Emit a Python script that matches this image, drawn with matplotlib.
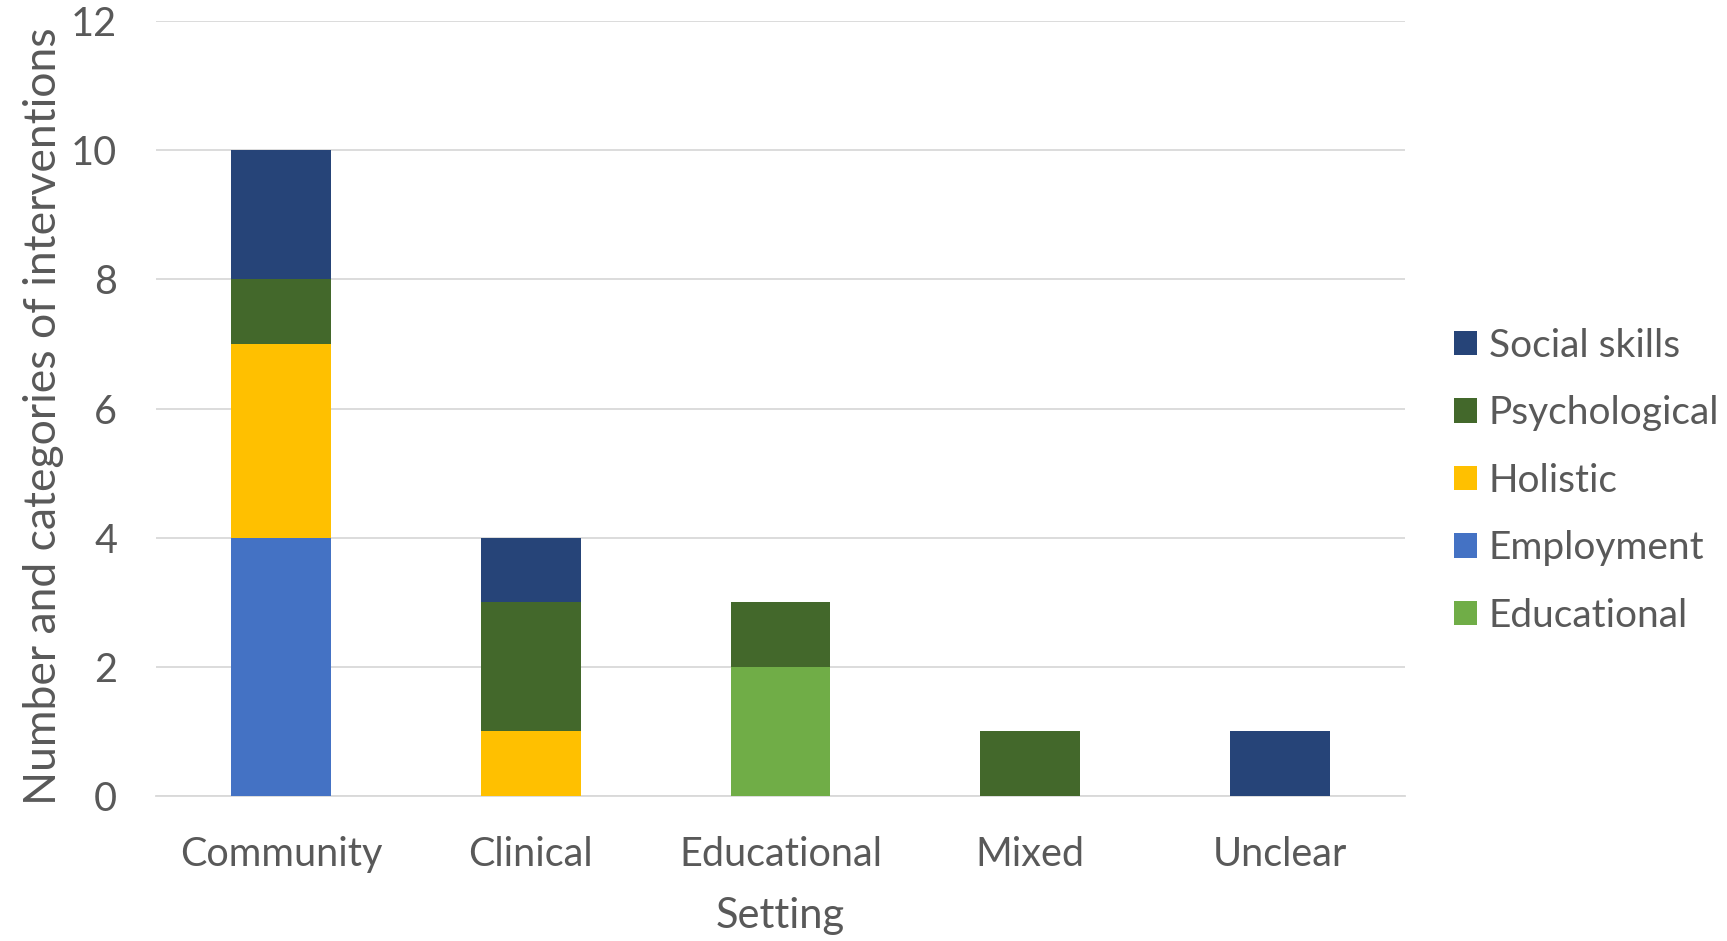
import matplotlib
matplotlib.use("Agg")
import matplotlib.pyplot as plt
import numpy as np

settings = ["Community", "Clinical", "Educational", "Mixed", "Unclear"]
series_names = ["Educational", "Employment", "Holistic", "Psychological", "Social skills"]
educational = [0, 0, 2, 0, 0]
employment = [4, 0, 0, 0, 0]
holistic = [3, 1, 0, 0, 0]
psychological = [1, 2, 1, 1, 0]
social_skills = [2, 1, 0, 0, 1]
colors = ["#70AD47", "#4472C4", "#FFC000", "#43682B", "#264478"]
yticks = [0, 2, 4, 6, 8, 10, 12]

plt.rcParams['font.family'] = ['Lato', 'DejaVu Sans']
txt = "#595959"

fig = plt.figure(figsize=(17.27, 9.41), dpi=100)
ax = fig.add_axes([0.0903, 0.154, 0.7233, 0.8237])

x = np.arange(len(settings))
bottom = np.zeros(len(settings))
handles = []
for name, vals, c in zip(series_names, [educational, employment, holistic, psychological, social_skills], colors):
    b = ax.bar(x, vals, 0.4, bottom=bottom, color=c, label=name, zorder=3)
    handles.append(b)
    bottom += np.array(vals)

ax.set_xlim(-0.5, len(settings) - 0.5)
ax.set_ylim(0, 12)
ax.set_yticks(yticks)
ax.set_xticks(x)
ax.set_xticklabels(settings)
ax.grid(axis='y', color="#D9D9D9", linewidth=1.3, zorder=0)
for s in ["top", "right", "left"]:
    ax.spines[s].set_visible(False)
ax.spines["bottom"].set_color("#D9D9D9")
ax.spines["bottom"].set_linewidth(1.3)
ax.tick_params(axis='both', length=0, labelsize=28.5, labelcolor=txt)
ax.tick_params(axis='x', pad=29)
ax.tick_params(axis='y', pad=28)
ax.set_xlabel("Setting", fontsize=30, color=txt, labelpad=17)
ax.set_ylabel("Number and categories of interventions", fontsize=32, color=txt)
ax.yaxis.set_label_coords(-0.074, 0.49)

leg = ax.legend(handles[::-1], series_names[::-1], loc='center left', bbox_to_anchor=(1.011, 0.407),
                frameon=False, fontsize=28, handlelength=0.6, handleheight=0.6,
                handletextpad=0.3, labelspacing=0.81, labelcolor=txt)

fig.savefig("out.png", dpi=100)
